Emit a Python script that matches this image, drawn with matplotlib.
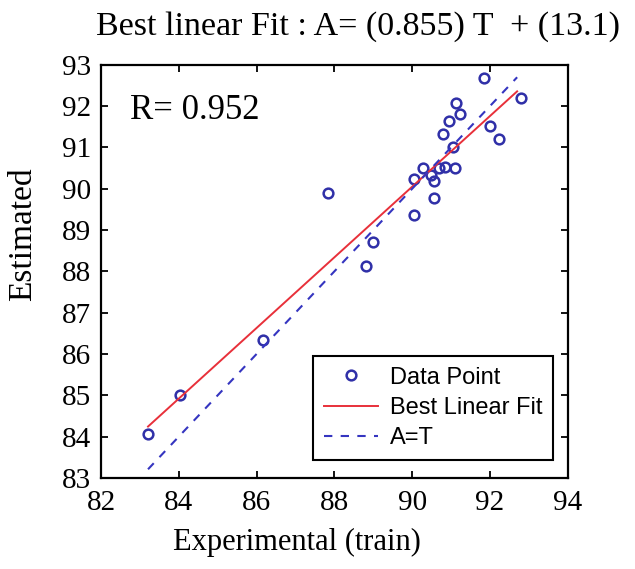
import numpy as np
import matplotlib
matplotlib.use('Agg')
import matplotlib.pyplot as plt

plt.rc('font', family='Liberation Serif', size=21)

# experimental (train) vs estimated values
experimental = [83.21, 84.04, 86.17, 87.84, 88.82, 88.99, 90.06, 90.06, 90.27, 90.49,
                90.57, 90.57, 90.70, 90.85, 91.09, 90.79, 90.96, 91.04, 91.13, 91.24,
                91.86, 92.00, 92.24, 92.80]
estimated = [84.06, 85.01, 86.34, 89.91, 88.13, 88.72, 89.37, 90.23, 90.50, 90.34,
             90.18, 89.77, 90.50, 90.52, 90.50, 91.32, 91.64, 91.00, 92.07, 91.81,
             92.69, 91.52, 91.21, 92.20]
slope = 0.855
intercept = 13.1
r_value = 0.952

x = np.array(experimental)
y = np.array(estimated)
xl = np.array([x.min(), 92.7])

fig = plt.figure(figsize=(6.35, 5.69), dpi=100)
ax = fig.add_axes([0.159, 0.160, 0.735, 0.726])

ax.plot(x, y, 'o', mfc='none', mec='#3030a8', mew=1.8, ms=7, label='Data Point')
ax.plot(xl, slope*xl + intercept, '-', color='#e8303a', lw=1.4, label='Best Linear Fit')
ax.plot(xl, xl, '--', color='#3535c0', lw=1.5, dashes=(4, 4), label='A=T')

ax.set_xlim(82, 94)
ax.set_ylim(83, 93)
ax.set_xticks(np.arange(82, 95, 2))
ax.set_yticks(np.arange(83, 94, 1))
ax.tick_params(direction='in', top=True, right=True, length=5, width=1.3, labelsize=21)
ax.tick_params(axis='x', pad=9)
ax.tick_params(axis='y', pad=7)
for s in ax.spines.values():
    s.set_linewidth(1.6)

ax.set_xlabel('Experimental (train)', fontsize=22)
ax.xaxis.set_label_coords(0.42, -0.12)
ax.set_ylabel('Estimated', fontsize=24)
ax.yaxis.set_label_coords(-0.135, 0.59)
ax.set_title('Best linear Fit : A= (%.3f) T  + (%.1f)' % (slope, intercept),
             fontsize=24.5, pad=22, x=0.551)
ax.text(0.062, 0.869, 'R= %.3f' % r_value, transform=ax.transAxes, fontsize=25, va='baseline')

leg = ax.legend(loc='lower right', prop={'family': 'Liberation Sans', 'size': 17},
                fancybox=False, edgecolor='black', framealpha=1, borderpad=0.45,
                handlelength=2.3, handletextpad=0.5, labelspacing=0.35,
                borderaxespad=0, bbox_to_anchor=(0.968, 0.044))
leg.get_frame().set_linewidth(1.5)

plt.savefig('out.png', dpi=100)
